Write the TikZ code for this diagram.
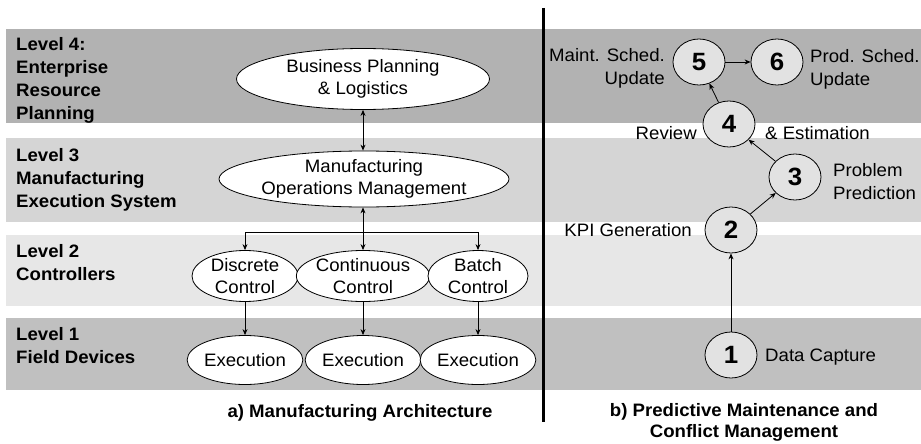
\documentclass[tikz,border=0pt]{standalone}
\usepackage{fontspec}
\setmainfont{Liberation Sans}[FakeStretch=1.035]
\usetikzlibrary{arrows.meta,shapes.geometric}
\definecolor{bandA}{RGB}{178,178,178}
\definecolor{bandB}{RGB}{213,213,213}
\definecolor{bandC}{RGB}{231,231,231}
\definecolor{bandD}{RGB}{192,192,192}
\definecolor{circfill}{RGB}{226,226,226}
\tikzset{
  arch/.style={ellipse,draw=black,line width=0.8pt,fill=white,inner sep=0pt,align=center,
    font=\fontsize{18}{22.5}\selectfont},
  stepcirc/.style={ellipse,draw=black,line width=0.8pt,fill=circfill,inner sep=0pt,
    minimum width=52pt,minimum height=46pt,font=\bfseries\fontsize{25}{25}\selectfont},
  lvl/.style={anchor=west,align=left,inner sep=0pt,font=\bfseries\fontsize{18}{23}\selectfont},
  lbl/.style={inner sep=0pt,font=\fontsize{18}{23}\selectfont},
  captxt/.style={inner sep=0pt,align=center,font=\bfseries\fontsize{18}{20.5}\selectfont},
  conn/.style={line width=0.8pt,-{Stealth[length=6pt,width=5pt]}},
}
\begin{document}
\begin{tikzpicture}[x=1pt,y=-1pt]
\useasboundingbox (0,0) rectangle (921,444);
% bands
\fill[bandA] (6,29) rectangle (921,123);
\fill[bandB] (6,138) rectangle (921,222);
\fill[bandC] (6,235) rectangle (921,306);
\fill[bandD] (6,318) rectangle (921,390);
% divider
\draw[line width=3pt] (543,8) -- (543,422);
% level labels
\node[lvl] (l4) at (16,80.5) {Level 4:\\Enterprise\\Resource\\Planning};
\node[lvl] (l3) at (16,180) {Level 3\\Manufacturing\\Execution System};
\node[lvl] (l2) at (16,263) {Level 2\\Controllers};
\node[lvl] (l1) at (16,346) {Level 1\\Field Devices};
% architecture nodes
\node[arch,minimum width=253pt,minimum height=61pt] (bpl) at (363,79) {Business Planning\\\& Logistics};
\node[arch,minimum width=286pt,minimum height=56pt] (mom) at (364,179) {Manufacturing\\Operations Management};
\node[arch,minimum width=106pt,minimum height=51pt] (dc) at (245,276) {Discrete\\Control};
\node[arch,minimum width=100pt,minimum height=51pt] (cc) at (363,276) {Continuous\\Control};
\node[arch,minimum width=100pt,minimum height=51pt] (bc) at (478,276) {Batch\\Control};
\node[arch,minimum width=106pt,minimum height=49pt] (de) at (245,360) {Execution};
\node[arch,minimum width=100pt,minimum height=49pt] (ce) at (363,360) {Execution};
\node[arch,minimum width=100pt,minimum height=49pt] (be) at (478,360) {Execution};
\draw[conn,{Stealth[length=6pt,width=5pt]}-{Stealth[length=6pt,width=5pt]}] (bpl.south) -- (mom.north -| bpl.south);
\coordinate (j) at (363,232);
\draw[conn,{Stealth[length=6pt,width=5pt]}-] (mom.south -| j) -- (j);
\draw[conn] (j) -| (dc.north);
\draw[conn] (j) -- (cc.north);
\draw[conn] (j) -| (bc.north);
\draw[conn] (dc) -- (de);
\draw[conn] (cc) -- (ce);
\draw[conn] (bc) -- (be);
% predictive maintenance steps
\node[stepcirc] (n1) at (731,355) {1};
\node[stepcirc] (n2) at (731,230) {2};
\node[stepcirc] (n3) at (795,177) {3};
\node[stepcirc] (n4) at (729,124) {4};
\node[stepcirc] (n5) at (699,62) {5};
\node[stepcirc] (n6) at (777,62) {6};
\draw[conn] (n1) -- (n2);
\draw[conn] (n2) -- (n3);
\draw[conn] (n3) -- (n4);
\draw[conn] (n4) -- (n5);
\draw[conn] (n5) -- (n6);
\node[lbl,anchor=east,align=right] (t5) at (665,68) {Maint. Sched.\\Update};
\node[lbl,anchor=west,align=left] (t6) at (810,69) {Prod. Sched.\\Update};
\node[lbl,anchor=east] (t4a) at (697,133) {Review};
\node[lbl,anchor=west] (t4b) at (765,133) {\& Estimation};
\node[lbl,anchor=west,align=left] (t3) at (833,182) {Problem\\Prediction};
\node[lbl,anchor=east] (t2) at (692,230) {KPI Generation};
\node[lbl,anchor=west] (t1) at (765,357) {Data Capture};
% captions
\node[captxt] (ca) at (360,413) {a) Manufacturing Architecture};
\node[captxt] (cb) at (744,422.5) {b) Predictive Maintenance and\\Conflict Management};
\end{tikzpicture}
\end{document}
